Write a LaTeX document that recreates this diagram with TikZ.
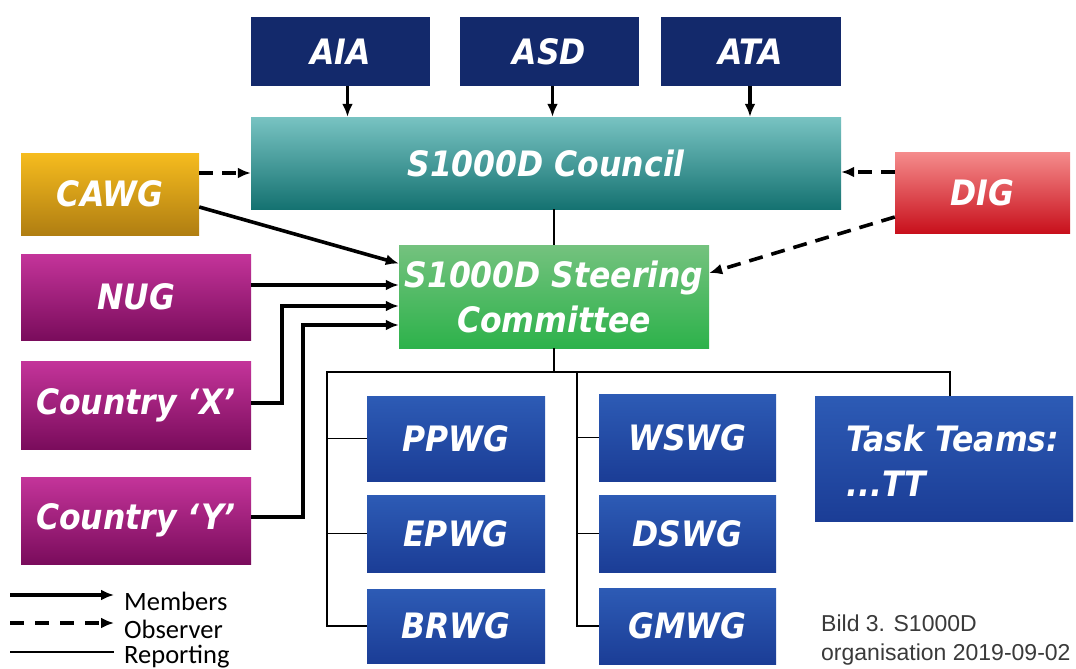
\documentclass[tikz,border=0pt]{standalone}
\usepackage{fontspec}
\usetikzlibrary{arrows.meta,calc}
\newfontfamily\boxfont{DejaVu Sans Condensed}
\newfontfamily\legfont{Carlito}
\newfontfamily\capfont{Liberation Sans}
\definecolor{navy}{HTML}{13296B}
\definecolor{tealT}{HTML}{78C3C2}
\definecolor{tealB}{HTML}{157271}
\definecolor{goldT}{HTML}{F6BC1E}
\definecolor{goldB}{HTML}{B07E12}
\definecolor{redT}{HTML}{F58C8C}
\definecolor{redB}{HTML}{C8101C}
\definecolor{grnT}{HTML}{74C27E}
\definecolor{grnB}{HTML}{2DB24B}
\definecolor{pinkT}{HTML}{C4349A}
\definecolor{pinkB}{HTML}{7A0C5C}
\definecolor{wgT}{HTML}{2D5BB5}
\definecolor{wgB}{HTML}{1B3D96}
\definecolor{capgray}{HTML}{3A3A3A}
\begin{document}
\begin{tikzpicture}[x=1pt,y=-1pt,
  box/.style={inner sep=0pt, text=white, align=center,
    font=\boxfont\bfseries\itshape\fontsize{35}{45}\selectfont},
  navybox/.style={box, fill=navy},
  tealbox/.style={box, top color=tealT, bottom color=tealB},
  goldbox/.style={box, top color=goldT, bottom color=goldB},
  redbox/.style={box, top color=redT, bottom color=redB},
  grnbox/.style={box, top color=grnT, bottom color=grnB},
  pinkbox/.style={box, top color=pinkT, bottom color=pinkB},
  wgbox/.style={box, top color=wgT, bottom color=wgB},
  mem/.style={line width=3.6pt, -{Latex[length=13pt,width=11pt]}},
  obs/.style={line width=3.6pt, dash pattern=on 14pt off 9pt, -{Latex[length=13pt,width=11pt]}},
  rep/.style={line width=1.6pt},
  leg/.style={anchor=west, inner sep=0pt, font=\legfont\fontsize{26.5}{26.5}\selectfont},
  captxt/.style={anchor=west, inner sep=0pt, text=capgray, font=\capfont\fontsize{23}{23}\selectfont}
]
\path[use as bounding box, fill=white] (0,0) rectangle (1076,669);

% top members
\node[navybox, minimum width=179, minimum height=69] (aia) at (340.5,51.5) {AIA};
\node[navybox, minimum width=179, minimum height=69] (asd) at (549.5,51.5) {ASD};
\node[navybox, minimum width=180, minimum height=69] (ata) at (751,51.5) {ATA};
% council
\node[tealbox, minimum width=590, minimum height=92] (council) at (546,163) {S1000D Council};
\node[goldbox, minimum width=178, minimum height=82] (cawg) at (110,194) {CAWG};
\node[redbox, minimum width=175, minimum height=81] (dig) at (982.5,192.5) {DIG};
% steering
\node[grnbox, minimum width=310, minimum height=103] (steer) at (554,296.5) {S1000D Steering\\Committee};
\node[pinkbox, minimum width=230, minimum height=86] (nug) at (136,297) {NUG};
\node[pinkbox, minimum width=230, minimum height=88] (cx) at (136,405) {Country ‘X’};
\node[pinkbox, minimum width=230, minimum height=87] (cy) at (136,520.5) {Country ‘Y’};
% working groups
\node[wgbox, minimum width=178, minimum height=85] (ppwg) at (456,438.5) {PPWG};
\node[wgbox, minimum width=178, minimum height=77] (epwg) at (456,533.5) {EPWG};
\node[wgbox, minimum width=178, minimum height=74] (brwg) at (456,626) {BRWG};
\node[wgbox, minimum width=177, minimum height=87] (wswg) at (687.5,437.5) {WSWG};
\node[wgbox, minimum width=177, minimum height=77] (dswg) at (687.5,533.5) {DSWG};
\node[wgbox, minimum width=177, minimum height=76] (gmwg) at (687.5,626) {GMWG};
\node[wgbox, minimum width=258, minimum height=125] (tt) at (944,458.5) {};
\node[box, anchor=west, align=left] (ttt) at (846,461) {Task Teams:\\...TT};

% members arrows
\draw[mem] ([xshift=7]aia.south) -- ([xshift=7]aia.south |- council.north);
\draw[mem] ([xshift=3]asd.south) -- ([xshift=3]asd.south |- council.north);
\draw[mem] ([xshift=-1]ata.south) -- ([xshift=-1]ata.south |- council.north);
\draw[mem] ([yshift=-13]cawg.east) -- ([yshift=33]steer.west);
\draw[mem] ([yshift=12]nug.east) -- ([yshift=12]nug.east -| steer.west);
\draw[mem] ([yshift=2]cx.east) -- ++(31,0) |- ([yshift=-9.5]steer.west);
\draw[mem] ([yshift=3.5]cy.east) -- ++(52,0) |- ([yshift=-28.5]steer.west);
% observer arrows
\draw[obs] ([yshift=21]cawg.east) -- ([yshift=21]cawg.east -| council.west);
\draw[obs] ([yshift=20.5]dig.west) -- ([yshift=20.5]dig.west -| council.east);
\draw[obs] ([yshift=-24.5]dig.west) -- ([yshift=23.5]steer.east);
% reporting lines
\coordinate (busL) at (327,372);
\coordinate (busR) at (950,372);
\coordinate (bus2) at (577,372);
\draw[rep] (council.south -| steer.north) -- (steer.north);
\draw[rep] (steer.south) -- (steer.south |- busL);
\draw[rep] (brwg.west) -- (brwg.west -| busL) -- (busL) -- (busR) -- (busR |- tt.north);
\draw[rep] (ppwg.west) -- (ppwg.west -| busL);
\draw[rep] (epwg.west) -- (epwg.west -| busL);
\draw[rep] (bus2) |- (gmwg.west);
\draw[rep] (bus2 |- wswg.west) -- (wswg.west);
\draw[rep] (bus2 |- dswg.west) -- (dswg.west);

% legend
\coordinate (la1) at (10,595); \coordinate (lb1) at (114,595);
\coordinate (la2) at (10,623); \coordinate (lb2) at (114,623);
\coordinate (la3) at (10,652); \coordinate (lb3) at (114,652);
\draw[mem] (la1) -- (lb1);
\draw[obs, dash pattern=on 14pt off 11pt] (la2) -- (lb2);
\draw[rep] (la3) -- (lb3);
\node[leg] (lm) at (124,601) {Members};
\node[leg] (lo) at (124,629) {Observer};
\node[leg] (lr) at (124,657) {Reporting};

% caption
\node[captxt] (c1) at (821,623) {Bild 3. S1000D};
\node[captxt] (c2) at (821,655) {organisation 2019-09-02};
\end{tikzpicture}
\end{document}
